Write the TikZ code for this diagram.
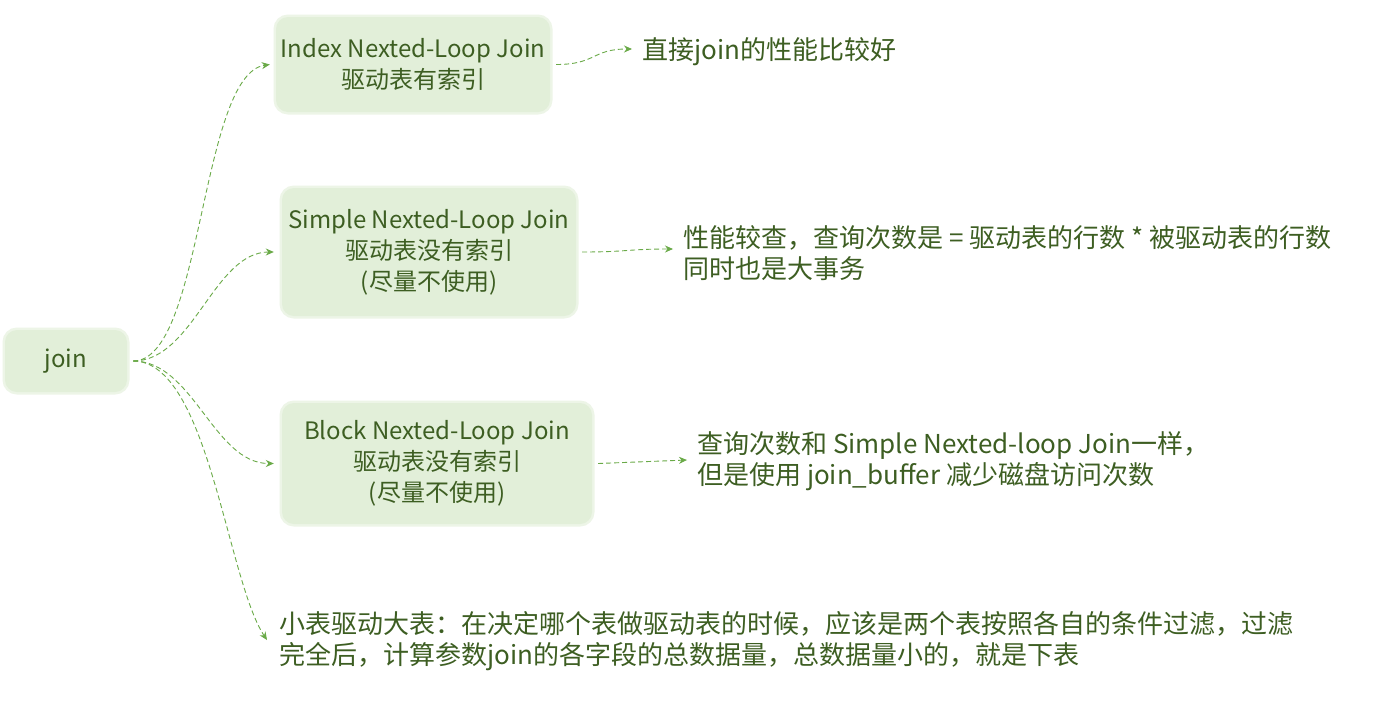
\documentclass[tikz,border=0pt]{standalone}
\usepackage{fontspec}
\setmainfont{Noto Sans CJK SC}
\usetikzlibrary{arrows.meta}
\definecolor{txtgreen}{HTML}{3D5E22}
\definecolor{boxfill}{HTML}{E2EFD9}
\definecolor{boxhalo}{HTML}{EDF5E7}
\definecolor{linkgreen}{HTML}{6AAA48}
\tikzset{
  box/.style={fill=boxfill, rounded corners=12pt, align=center, text=txtgreen,
    font=\fontsize{24}{31}\selectfont, inner sep=0pt,
    preaction={draw=boxhalo, line width=5pt}},
  note/.style={anchor=west, align=left, text=txtgreen, inner sep=0pt,
    font=\fontsize{26}{31}\selectfont},
  conn/.style={draw=linkgreen, dashed, dash pattern=on 5pt off 3pt, line width=0.9pt,
    -{Stealth[length=8pt,width=7pt]}}
}
\begin{document}
\begin{tikzpicture}[x=1pt,y=-1pt]
\useasboundingbox[fill=white] (0,0) rectangle (1382,710);

\node[box, minimum width=122pt, minimum height=62pt] (join) at (66,361) {join};
\node[box, minimum width=274pt, minimum height=95pt] (idx) at (413,64.5)
  {Index Nexted-Loop Join\\驱动表有索引};
\node[box, minimum width=294pt, minimum height=128pt] (smp) at (429,252)
  {Simple Nexted-Loop Join\\驱动表没有索引\\(尽量不使用)};
\node[box, minimum width=310pt, minimum height=121pt] (blk) at (437,463.5)
  {Block Nexted-Loop Join\\驱动表没有索引\\(尽量不使用)};

\node[note] (t1) at (642,52) {直接join的性能比较好};
\node[note] (t2) at (683,253) {性能较查，查询次数是 = 驱动表的行数 * 被驱动表的行数\\同时也是大事务};
\node[note] (t3) at (697,461) {查询次数和 Simple Nexted-loop Join一样，\\但是使用 join\_buffer 减少磁盘访问次数};
\node[note] (t4) at (279,641.5) {小表驱动大表：在决定哪个表做驱动表的时候，应该是两个表按照各自的条件过滤，过滤\\完全后，计算参数join的各字段的总数据量，总数据量小的，就是下表};

\coordinate (jo) at ([xshift=6pt]join.east);
\draw[conn] (jo) .. controls +(70,0) and +(-70,10) .. ([xshift=-6pt]idx.west);
\draw[conn] (jo) .. controls +(60,0) and +(-60,0) .. ([xshift=-8pt]smp.west);
\draw[conn] (jo) .. controls +(60,0) and +(-60,0) .. ([xshift=-8pt]blk.west);
\draw[conn] (jo) .. controls +(75,0) and +(-40,-60) .. ([xshift=-12pt,yshift=1.5pt]t4.west);

\draw[conn] ([xshift=6pt]idx.east) .. controls +(40,0) and +(-40,0) .. ([xshift=-10pt,yshift=3pt]t1.west);
\draw[conn] ([xshift=6pt]smp.east) .. controls +(45,0) and +(-45,0) .. ([xshift=-10pt,yshift=4pt]t2.west);
\draw[conn] ([xshift=6pt]blk.east) -- ([xshift=-10pt,yshift=1pt]t3.west);
\end{tikzpicture}
\end{document}
